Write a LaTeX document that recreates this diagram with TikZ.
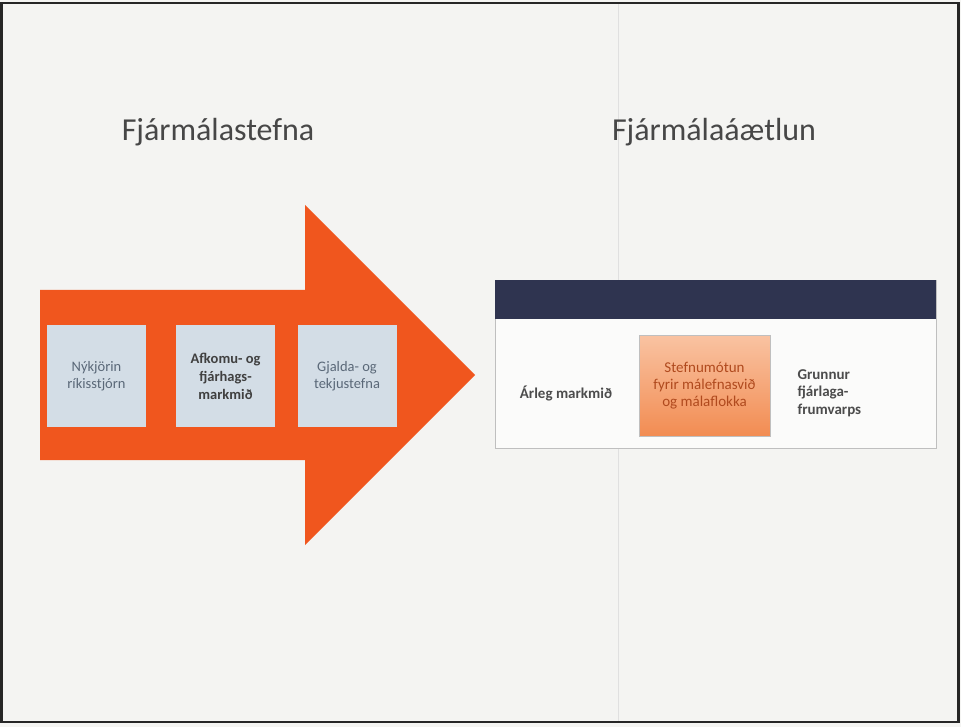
\documentclass[tikz,border=0pt]{standalone}
\usepackage{fontspec}
\setmainfont{Carlito}
\usepackage{tikz}
\usetikzlibrary{positioning}

\definecolor{pagebg}{HTML}{F4F4F2}
\definecolor{arroworange}{HTML}{F0561E}
\definecolor{stepblue}{HTML}{D3DDE6}
\definecolor{steptext}{HTML}{5A6878}
\definecolor{banddark}{HTML}{2F3450}
\definecolor{peachtop}{HTML}{F9C3A2}
\definecolor{peachbot}{HTML}{F28C52}
\definecolor{peachtext}{HTML}{B04A1E}

\begin{document}
\begin{tikzpicture}[x=1pt, y=-1pt,
    stepbox/.style={fill=stepblue, minimum width=99pt, minimum height=102pt,
        align=center, font=\fontsize{14.5}{17}\selectfont, text=steptext, inner sep=2pt},
    title/.style={font=\fontsize{32}{38}\selectfont, text=black!72},
    plantext/.style={font=\fontsize{15}{17.5}\selectfont\bfseries, text=black!70, align=center}]

			% page
			\fill[pagebg] (0,0) rectangle (961,727);
			\draw[black!12, line width=1pt] (618,4) -- (618,722);
			\draw[black!85, line width=2.5pt] (1.5,3) rectangle (958.5,722);

			% titles
			\node[title] (stefna) at (218,132) {Fjármálastefna};
			\node[title] (aaetlun) at (714,132) {Fjármálaáætlun};

			% big arrow
			\fill[arroworange] (40,290) -- (305,290) -- (305,205) -- (475,375)
				-- (305,545) -- (305,460) -- (40,460) -- cycle;

			\node[stepbox] (1) at (96.5,376) {Nýkjörin\\ríkisstjórn};
			\node[stepbox, font=\fontsize{14.5}{18}\selectfont\bfseries, text=black!75] (2) at (225.5,376) {Afkomu- og\\fjárhags-\\markmið};
			\node[stepbox] (3) at (347,376) {Gjalda- og\\tekjustefna};

			% plan table
			\draw[black!25, fill=white!60!pagebg] (495,280) rectangle (936,448);
			\fill[banddark] (495,280) rectangle (936,319);

			\node[plantext] (4) at (566,393) {Árleg markmið};
			\node[draw=black!25, top color=peachtop, bottom color=peachbot,
				minimum width=131pt, minimum height=101pt, align=center, inner sep=1pt,
				font=\fontsize{15}{17}\selectfont, text=peachtext] (5) at (704.5,385.5)
				{Stefnumótun\\fyrir málefnasvið\\og málaflokka};
			\node[plantext, align=left, anchor=west] (6) at (794,393) {Grunnur\\fjárlaga-\\frumvarps};
        \end{tikzpicture}
\end{document}
